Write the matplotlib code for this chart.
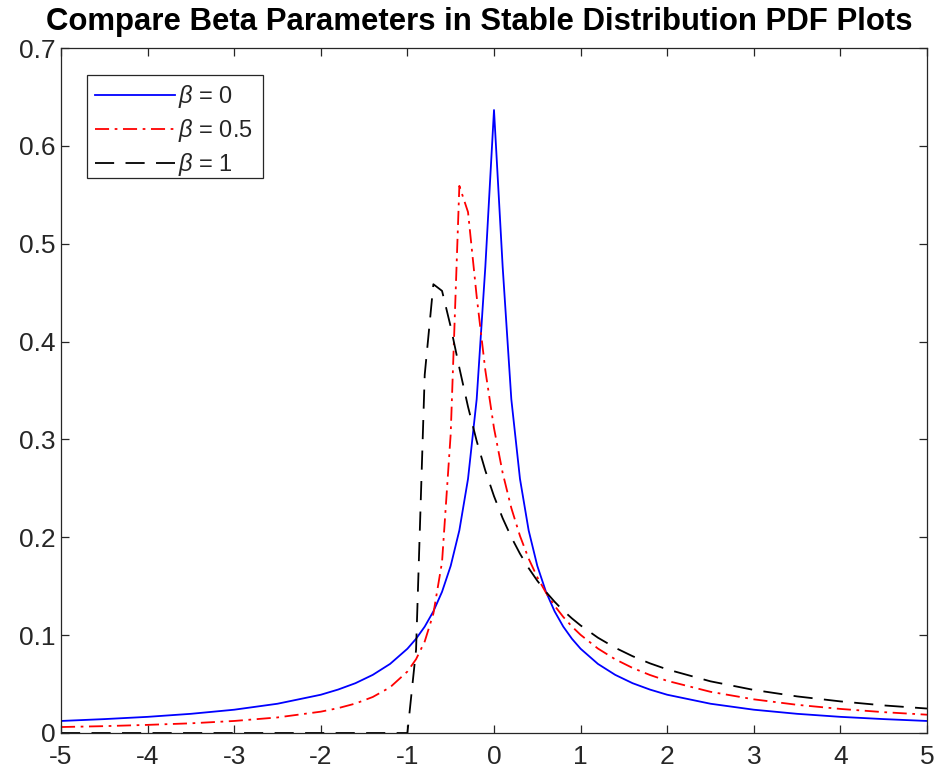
import matplotlib
matplotlib.use("Agg")
import matplotlib.pyplot as plt
from matplotlib.patches import Rectangle

plt.rcParams['font.family'] = ['Liberation Sans', 'DejaVu Sans']
plt.rcParams['mathtext.fontset'] = 'custom'
plt.rcParams['mathtext.rm'] = 'Liberation Sans'
plt.rcParams['mathtext.it'] = 'Liberation Sans:italic'

# x positions of the sampled pdf values
x = [-5.0, -4.5, -4.0, -3.5, -3.0, -2.5, -2.0, -1.8, -1.6, -1.4, -1.2,
     -1.0, -0.9, -0.8, -0.7, -0.6, -0.5, -0.4, -0.3, -0.2, -0.1, 0.0,
     0.1, 0.2, 0.3, 0.4, 0.5, 0.6, 0.7, 0.8, 0.9, 1.0,
     1.2, 1.4, 1.6, 1.8, 2.0, 2.5, 3.0, 3.5, 4.0, 4.5, 5.0]

# beta = 0
pdf_b0 = [0.0123, 0.0142, 0.0165, 0.0196, 0.0238, 0.0299, 0.0391, 0.0444,
          0.0509, 0.0594, 0.0706, 0.0861, 0.0963, 0.1087, 0.1243, 0.1443,
          0.1708, 0.2071, 0.2597, 0.3411, 0.4765, 0.6366,
          0.4765, 0.3411, 0.2597, 0.2071, 0.1708, 0.1443, 0.1243, 0.1087,
          0.0963, 0.0861, 0.0706, 0.0594, 0.0509, 0.0444, 0.0391, 0.0299,
          0.0238, 0.0196, 0.0165, 0.0142, 0.0123]

# beta = 0.5
pdf_b05 = [0.0061, 0.0070, 0.0083, 0.0099, 0.0123, 0.0159, 0.0218, 0.0254,
           0.0301, 0.0368, 0.0467, 0.0628, 0.0754, 0.0935, 0.1220, 0.1748,
           0.3056, 0.5591, 0.5323, 0.4461, 0.3706, 0.3115,
           0.2658, 0.2299, 0.2014, 0.1782, 0.1592, 0.1434, 0.1300, 0.1186,
           0.1088, 0.1003, 0.0863, 0.0753, 0.0665, 0.0593, 0.0533, 0.0421,
           0.0344, 0.0288, 0.0246, 0.0213, 0.0187]

# beta = 1
pdf_b1 = [0.0, 0.0, 0.0, 0.0, 0.0, 0.0, 0.0, 0.0, 0.0, 0.0, 0.0,
          0.0, 0.0850, 0.3661, 0.4586, 0.4518, 0.4151, 0.3731, 0.3334,
          0.2984, 0.2681, 0.2420,
          0.2195, 0.2001, 0.1832, 0.1685, 0.1556, 0.1442, 0.1341, 0.1251,
          0.1171, 0.1099, 0.0974, 0.0871, 0.0785, 0.0712, 0.0650, 0.0528,
          0.0440, 0.0374, 0.0323, 0.0282, 0.0250]

labels = [r'$\beta$ = 0', r'$\beta$ = 0.5', r'$\beta$ = 1']
xticks = [-5, -4, -3, -2, -1, 0, 1, 2, 3, 4, 5]
yticks = [0, 0.1, 0.2, 0.3, 0.4, 0.5, 0.6, 0.7]
yticklabels = ['0', '0.1', '0.2', '0.3', '0.4', '0.5', '0.6', '0.7']

gray = (0.15, 0.15, 0.15)

fig = plt.figure(figsize=(9.36, 7.77), dpi=100)
ax = fig.add_axes([61 / 936, 1 - 733 / 777, 866 / 936, 685 / 777])

lw = 1.3
ax.plot(x, pdf_b0, color='blue', lw=lw, label=labels[0])
ax.plot(x, pdf_b05, color='red', lw=lw, linestyle=(0, (7.8, 3.1, 1.5, 3.1)),
        label=labels[1])
ax.plot(x, pdf_b1, color='black', lw=lw, linestyle=(0, (10.6, 6.3)),
        label=labels[2])

ax.set_xlim(-5, 5)
ax.set_ylim(0, 0.7)
ax.set_xticks(xticks)
ax.set_yticks(yticks)
ax.set_xticklabels([str(t) for t in xticks])
ax.set_yticklabels(yticklabels)
ax.tick_params(direction='in', length=6, width=0.9, colors=gray,
               labelsize=19, top=True, right=True)
ax.tick_params(axis='x', pad=9)
ax.tick_params(axis='y', pad=4)
for s in ax.spines.values():
    s.set_color(gray)
    s.set_linewidth(0.9)

fig.text(479.5 / 936, 1 - 22 / 777,
         'Compare Beta Parameters in Stable Distribution PDF Plots',
         ha='center', va='center', fontsize=22.4, fontweight='bold')

# legend entries without frame, box drawn separately
leg = ax.legend(loc='upper left', bbox_to_anchor=(87 / 936, 1 - 75 / 777),
                bbox_transform=fig.transFigure, borderaxespad=0,
                fontsize=17, handlelength=3.4, handletextpad=0.13,
                labelspacing=0.3, borderpad=0.34, frameon=False)
for t in leg.get_texts():
    t.set_color(gray)

box = Rectangle((87 / 936, 1 - 178 / 777), 176 / 936, 103 / 777,
                transform=fig.transFigure, facecolor='none', edgecolor=gray,
                linewidth=0.9)
fig.patches.append(box)

fig.savefig('out.png', dpi=100)
